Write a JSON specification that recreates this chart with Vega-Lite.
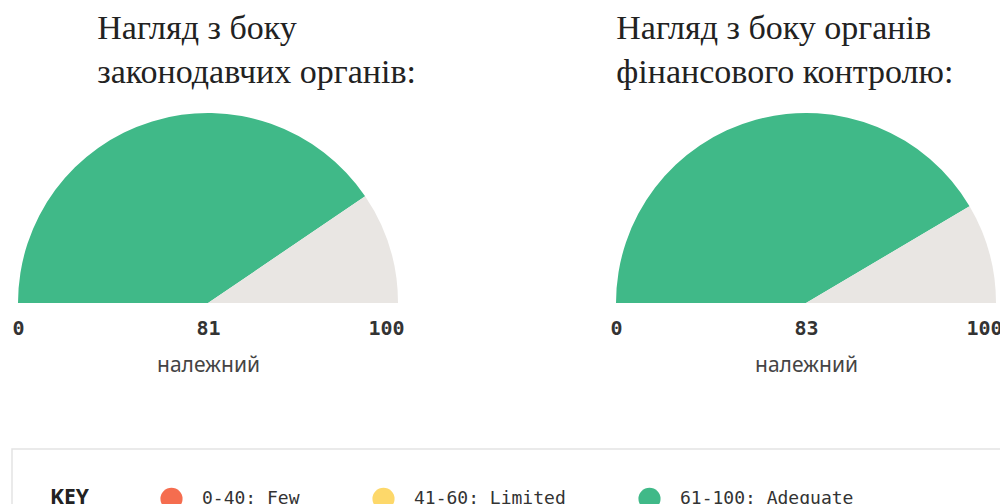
{
  "$schema": "https://vega.github.io/schema/vega-lite/v6.json",
  "background": "white",
  "padding": {"left": 9, "top": 12, "right": 0, "bottom": 0},
  "config": {"view": {"stroke": null}, "font": "Noto Sans"},
  "datasets": {
    "legislative": [
      {"segment": "61-100: Adequate", "v": 81},
      {"segment": "remainder", "v": 19}
    ],
    "legislativeTicks": [{"tick": "0"}, {"tick": "81"}, {"tick": "100"}],
    "audit": [
      {"segment": "61-100: Adequate", "v": 83},
      {"segment": "remainder", "v": 17}
    ],
    "auditTicks": [{"tick": "0"}, {"tick": "83"}, {"tick": "100"}],
    "key": [
      {"band": "0-40: Few"},
      {"band": "41-60: Limited"},
      {"band": "61-100: Adequate"}
    ]
  },
  "resolve": {"scale": {"color": "independent"}, "legend": {"color": "independent"}},
  "spacing": 73,
  "vconcat": [
    {
      "spacing": 191,
      "hconcat": [
        {
          "width": 392,
          "height": 190,
          "title": {
            "text": ["Нагляд з боку", "законодавчих органів:"],
            "anchor": "start",
            "dx": 88,
            "font": "Liberation Serif",
            "fontSize": 34,
            "fontWeight": "normal",
            "color": "#222222",
            "lineHeight": 44,
            "offset": 23
          },
          "layer": [
            {
              "data": {"name": "legislative"},
              "mark": {"type": "arc", "radius": 190, "radius2": 0},
              "encoding": {
                "theta": {"field": "v", "type": "quantitative", "stack": true, "scale": {"domain": [0, 100], "range": [-1.5708, 1.5708]}},
                "order": {"field": "v", "sort": "descending"},
                "color": {"field": "segment", "type": "nominal", "scale": {"domain": ["61-100: Adequate", "remainder"], "range": ["#40b988", "#e9e6e3"]}, "legend": null},
                "y": {"datum": 0, "type": "quantitative", "scale": {"domain": [0, 1]}, "axis": null}
              }
            },
            {
              "data": {"name": "legislativeTicks"},
              "mark": {"type": "point", "opacity": 0},
              "encoding": {
                "x": {
                  "field": "tick", "type": "ordinal", "sort": null,
                  "scale": {"type": "point", "padding": 0},
                  "axis": {"orient": "bottom", "domain": false, "ticks": false, "grid": false, "labelAngle": 0, "labelFlush": true,
                    "labelFont": "DejaVu Sans Mono", "labelFontSize": 20, "labelFontWeight": "bold", "labelColor": "#333333", "labelPadding": 15,
                    "title": "належний", "titleFont": "Noto Sans", "titleFontSize": 21, "titleFontWeight": "normal", "titleColor": "#444444", "titlePadding": 16}
                }
              }
            }
          ]
        },
        {
          "width": 392,
          "height": 190,
          "title": {
            "text": ["Нагляд з боку органів", "фінансового контролю:"],
            "anchor": "start",
            "dx": 9,
            "font": "Liberation Serif",
            "fontSize": 34,
            "fontWeight": "normal",
            "color": "#222222",
            "lineHeight": 44,
            "offset": 23
          },
          "layer": [
            {
              "data": {"name": "audit"},
              "mark": {"type": "arc", "radius": 190, "radius2": 0},
              "encoding": {
                "theta": {"field": "v", "type": "quantitative", "stack": true, "scale": {"domain": [0, 100], "range": [-1.5708, 1.5708]}},
                "order": {"field": "v", "sort": "descending"},
                "color": {"field": "segment", "type": "nominal", "scale": {"domain": ["61-100: Adequate", "remainder"], "range": ["#40b988", "#e9e6e3"]}, "legend": null},
                "y": {"datum": 0, "type": "quantitative", "scale": {"domain": [0, 1]}, "axis": null}
              }
            },
            {
              "data": {"name": "auditTicks"},
              "mark": {"type": "point", "opacity": 0},
              "encoding": {
                "x": {
                  "field": "tick", "type": "ordinal", "sort": null,
                  "scale": {"type": "point", "padding": 0},
                  "axis": {"orient": "bottom", "domain": false, "ticks": false, "grid": false, "labelAngle": 0, "labelFlush": true,
                    "labelFont": "DejaVu Sans Mono", "labelFontSize": 20, "labelFontWeight": "bold", "labelColor": "#333333", "labelPadding": 15,
                    "title": "належний", "titleFont": "Noto Sans", "titleFontSize": 21, "titleFontWeight": "normal", "titleColor": "#444444", "titlePadding": 16}
                }
              }
            }
          ]
        }
      ]
    },
    {
      "width": 1000,
      "height": 80,
      "view": {"stroke": "#e3e3e3", "strokeWidth": 1.5},
      "data": {"name": "key"},
      "mark": {"type": "point", "opacity": 0, "filled": true},
      "encoding": {
        "color": {
          "field": "band", "type": "nominal",
          "scale": {"domain": ["0-40: Few", "41-60: Limited", "61-100: Adequate"], "range": ["#f56d4f", "#fdd86a", "#40b988"]},
          "legend": {
            "title": "KEY", "orient": "top-left", "offset": 38, "padding": 0, "direction": "horizontal",
            "titleOrient": "left", "titleFont": "Noto Sans", "titleFontSize": 21, "titleFontWeight": "bold", "titleColor": "#222222", "titlePadding": 71,
            "symbolType": "circle", "symbolSize": 490, "symbolOpacity": 1, "symbolStrokeWidth": 0,
            "labelFont": "DejaVu Sans Mono", "labelFontSize": 18, "labelColor": "#333333", "labelOffset": 19, "labelLimit": 0, "columnPadding": 72
          }
        }
      }
    }
  ]
}
